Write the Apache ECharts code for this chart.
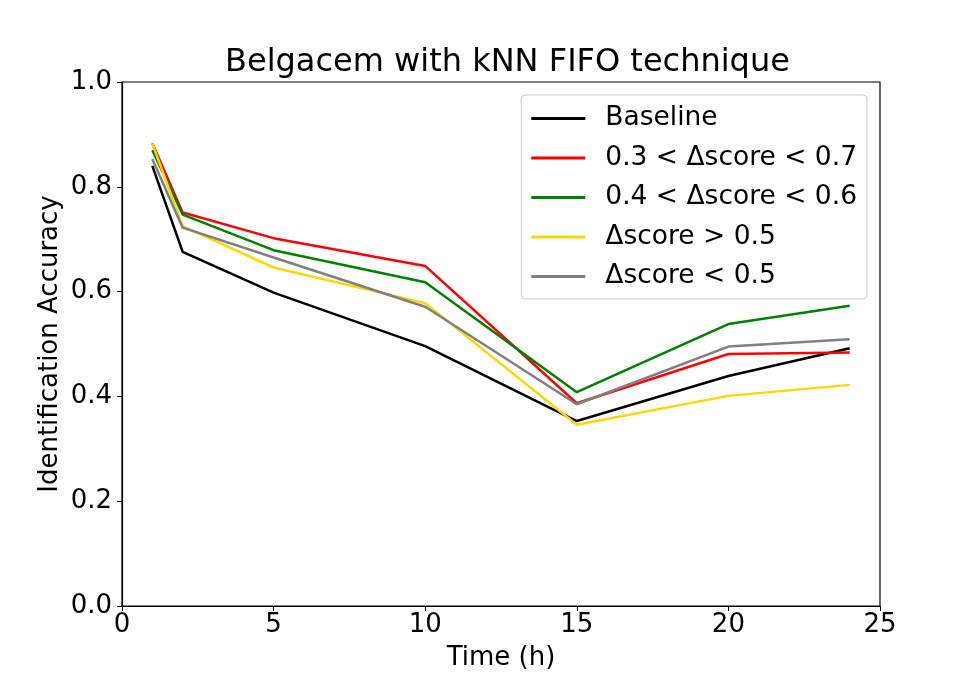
<!DOCTYPE html>
<html>
<head>
<meta charset="utf-8">
<script src="https://cdn.jsdelivr.net/npm/echarts@6/dist/echarts.min.js"></script>
<style>
  html, body { margin: 0; padding: 0; background: #fff; }
  #chart { width: 977px; height: 681px; }
</style>
</head>
<body>
<div id="chart"></div>
<script>
// hours on the x axis
var times = [1, 2, 5, 10, 15, 20, 24];

// identification accuracy per technique
var baseline  = [0.840, 0.676, 0.598, 0.496, 0.353, 0.439, 0.492];
var range3to7 = [0.883, 0.751, 0.702, 0.649, 0.387, 0.481, 0.484];
var range4to6 = [0.870, 0.747, 0.679, 0.618, 0.408, 0.538, 0.573];
var scoreHigh = [0.883, 0.725, 0.646, 0.578, 0.346, 0.401, 0.422];
var scoreLow  = [0.853, 0.722, 0.665, 0.571, 0.385, 0.495, 0.509];

var seriesNames = ['Baseline', '0.3 < Δscore < 0.7', '0.4 < Δscore < 0.6', 'Δscore > 0.5', 'Δscore < 0.5'];
var seriesColors = ['#000000', '#ff0000', '#008000', '#ffd700', '#808080'];
var seriesData = [baseline, range3to7, range4to6, scoreHigh, scoreLow];

var yTicks = [0, 0.2, 0.4, 0.6, 0.8, 1.0];
var xTicks = [0, 5, 10, 15, 20, 25];

var font = 'DejaVu Sans';

function pairs(vals) {
    return times.map(function(t, i){ return [t, vals[i]]; });
}

var series = seriesData.map(function(vals, i){
    return {
        name: seriesNames[i],
        type: 'line',
        symbol: 'none',
        lineStyle: {color: seriesColors[i], width: 2.5},
        itemStyle: {color: seriesColors[i]},
        data: pairs(vals)
    };
});

var option = {
    animation: false,
    backgroundColor: '#fff',
    title: {
        text: 'Belgacem with kNN FIFO technique',
        left: 220,
        top: 42,
        textStyle: {fontFamily: font, fontSize: 32, fontWeight: 'normal', color: '#000'}
    },
    grid: {left: 122, right: 97, top: 82, bottom: 75, show: true, borderColor: '#000', borderWidth: 1.2},
    legend: {
        orient: 'vertical',
        right: 110,
        top: 95,
        icon: 'rect',
        itemWidth: 54,
        itemHeight: 3,
        itemGap: 12.5,
        padding: [10, 10, 9, 10],
        backgroundColor: '#fff',
        borderColor: '#ccc',
        borderWidth: 1,
        borderRadius: 4,
        textStyle: {fontFamily: font, fontSize: 26.5, color: '#000', padding: [0, 0, 0, 15]},
        data: seriesNames
    },
    xAxis: {
        type: 'value',
        min: xTicks[0],
        max: xTicks[xTicks.length - 1],
        interval: 5,
        name: 'Time (h)',
        nameLocation: 'middle',
        nameGap: 39,
        nameTextStyle: {fontFamily: font, fontSize: 26, color: '#000'},
        axisLine: {show: true, lineStyle: {color: '#000', width: 1.2}},
        axisTick: {show: true, inside: false, length: 5, lineStyle: {color: '#000'}},
        axisLabel: {fontFamily: font, fontSize: 26, color: '#000', margin: 6},
        splitLine: {show: false}
    },
    yAxis: {
        type: 'value',
        min: yTicks[0],
        max: yTicks[yTicks.length - 1],
        interval: 0.2,
        name: 'Identification Accuracy',
        nameLocation: 'middle',
        nameGap: 59,
        nameMoveOverlap: false,
        nameTextStyle: {fontFamily: font, fontSize: 26, color: '#000'},
        axisLine: {show: true, lineStyle: {color: '#000', width: 1.2}},
        axisTick: {show: true, inside: false, length: 5, lineStyle: {color: '#000'}},
        axisLabel: {fontFamily: font, fontSize: 26, color: '#000', margin: 10,
            formatter: function(v){ return v.toFixed(1); }},
        splitLine: {show: false}
    },
    series: series
};

echarts.init(document.getElementById('chart')).setOption(option);
</script>
</body>
</html>
